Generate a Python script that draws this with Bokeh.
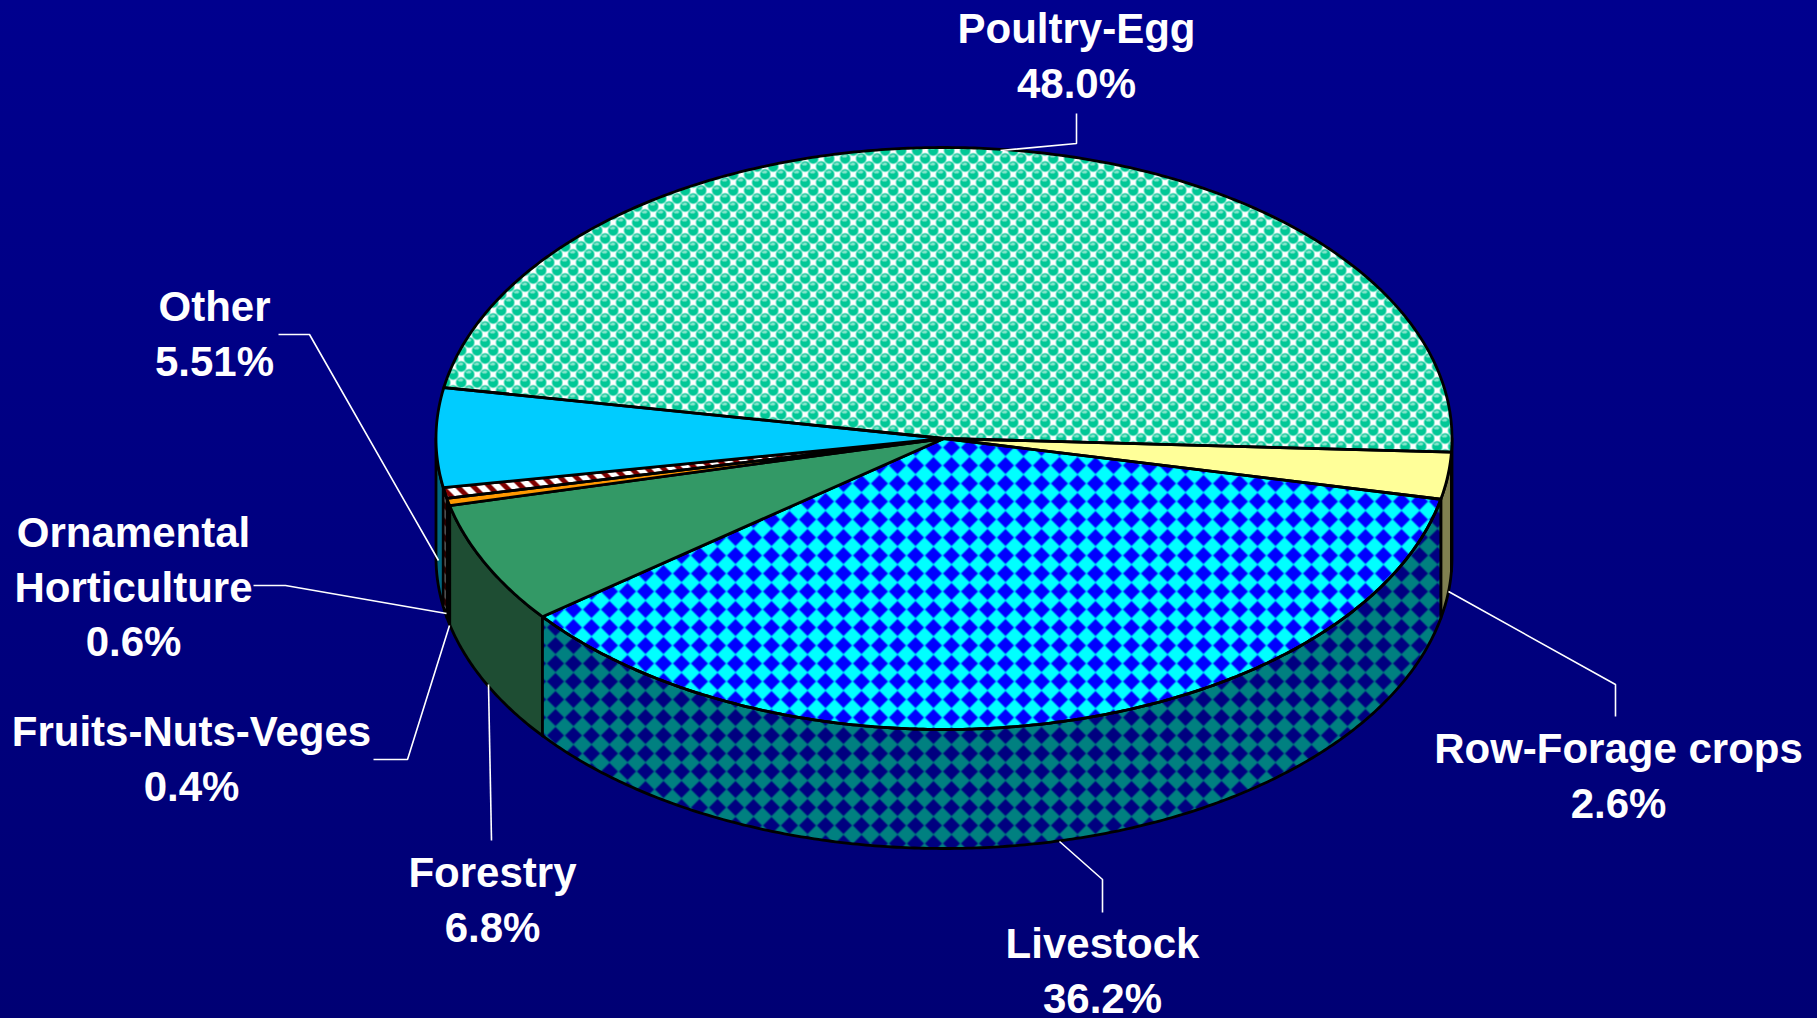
import numpy as np
from bokeh.core.properties import value
from bokeh.embed import file_html
from bokeh.models import Range1d
from bokeh.plotting import figure
from bokeh.resources import INLINE

# ---- data ----
labels = ["Row-Forage crops", "Livestock", "Forestry", "Fruits-Nuts-Veges",
          "Ornamental\nHorticulture", "Other", "Poultry-Egg"]
values = [2.6, 36.2, 6.8, 0.4, 0.6, 5.51, 48.0]
value_texts = ["2.6%", "36.2%", "6.8%", "0.4%", "0.6%", "5.51%", "48.0%"]
top_colors = ["#FFFF99", "#00FFFF", "#339966", "#FF9900", "#FFFFFF", "#00CCFF", "#FFFFFF"]
wall_colors = ["#808050", "#008080", "#1E4D33", "#804D00", "#808080", "#006680", "#00604A"]

# ---- layout (page pixels) ----
W, H = 1817, 1018
CX, CY, RX, RY, DEPTH = 943.5, 438, 508, 291, 119
START_DEG = 2.7
BASELINE_SHIFT = -15
LINE_GAP = 54.5
label_anchor = {
    "Row-Forage crops": (1618, 763),
    "Livestock": (1102, 958),
    "Forestry": (492, 887),
    "Fruits-Nuts-Veges": (191, 746),
    "Ornamental\nHorticulture": (133, 547),
    "Other": (214, 321),
    "Poultry-Egg": (1076, 43),
}
leaders = {
    "Poultry-Egg": ([1000, 1076, 1076], [150, 143, 113]),
    "Other": ([438, 309, 278], [560, 334, 334]),
    "Ornamental\nHorticulture": ([446, 285, 253], [613, 585, 585]),
    "Fruits-Nuts-Veges": ([449, 407, 373], [625, 759, 759]),
    "Forestry": ([488, 491], [684, 840]),
    "Livestock": ([1059, 1102, 1102], [841, 879, 912]),
    "Row-Forage crops": ([1448, 1615, 1615], [591, 684, 716]),
}

def rgb(h):
    return np.array([int(h[i:i + 2], 16) for i in (1, 3, 5)], dtype=float)

def wrap(D, period=16.0):
    return (D + period / 2) % period - period / 2

DIAMOND_PITCH = 18.0

def diamonds(X, Y, bg, fg):
    # a checkerboard turned by 45 degrees: fg diamonds on a square lattice
    dist = np.abs(wrap(X - 1023, DIAMOND_PITCH)) + np.abs(wrap(Y - 573, DIAMOND_PITCH))
    k = np.clip((dist - 7.6) / 1.8, 0, 1)[..., None]
    return rgb(bg) * k + rgb(fg) * (1 - k)

def balls(X, Y, bg, fg, hi):
    ox, oy = 1012.7, 310
    a, b = wrap(X - ox), wrap(Y - oy)
    c, d = wrap(X - ox - 8), wrap(Y - oy - 8)
    first = a * a + b * b <= c * c + d * d
    dx, dy = np.where(first, a, c), np.where(first, b, d)
    dist = np.hypot(dx, dy)
    k = np.clip((dist - 4.6) / 1.2, 0, 1)[..., None]
    img = rgb(bg) * k + rgb(fg) * (1 - k)
    spot = np.hypot((dx + 0.5) / 2.8, (dy + 2.4) / 1.3) < 1
    img[spot] = rgb(hi)
    return img

def stripes(X, Y, bg, fg):
    img = np.broadcast_to(rgb(bg), X.shape + (3,)).copy()
    img[(X - Y) % 16 < 6.5] = rgb(fg)
    return img

# painters for the patterned slices, by slice index
top_paint = {
    1: lambda X, Y: diamonds(X, Y, "#00FFFF", "#0000FF"),
    4: lambda X, Y: stripes(X, Y, "#FFFFFF", "#800000"),
    6: lambda X, Y: balls(X, Y, "#FFFFFF", "#00C896", "#7FE3C9"),
}
wall_paint = {
    1: lambda X, Y: diamonds(X, Y, "#008080", "#000080"),
    4: lambda X, Y: stripes(X, Y, "#A0A0A0", "#500000"),
}

# ---- slice angles from the values ----
fractions = np.array(values) / sum(values)
edges = START_DEG + np.concatenate([[0], np.cumsum(fractions)]) * 360

def in_slice(t, a, b):
    return ((t - a) % 360) < (b - a)

# ---- raster layer holding the patterned faces ----
X, Y = np.meshgrid(np.arange(W) + 0.5, np.arange(H) + 0.5)
U, V = (X - CX) / RX, (Y - CY) / RY
T = np.degrees(np.arctan2(V, U)) % 360
on_top = U * U + V * V <= 1
rgba = np.zeros((H, W, 4), dtype=np.uint8)

U_safe = np.clip(U, -1, 1)
rim_y = CY + RY * np.sqrt(1 - U_safe * U_safe)
T_rim = np.degrees(np.arccos(U_safe))
on_wall = (np.abs(U) <= 1) & (Y >= rim_y) & (Y <= rim_y + DEPTH)

def paint(mask, painter):
    img = painter(X, Y)
    rgba[..., :3][mask] = np.clip(img[mask], 0, 255).astype(np.uint8)
    rgba[..., 3][mask] = 255

for i, painter in wall_paint.items():
    paint(on_wall & in_slice(T_rim, edges[i], edges[i + 1]), painter)
for i, painter in top_paint.items():
    paint(on_top & in_slice(T, edges[i], edges[i + 1]), painter)

raster = np.flipud(rgba).view(np.uint32).reshape(H, W)

# ---- figure ----
p = figure(width=W, height=H, x_range=Range1d(0, W), y_range=Range1d(0, H),
           output_backend="svg", toolbar_location=None, min_border=0,
           background_fill_color=None, border_fill_color=None, outline_line_color=None)
p.axis.visible = False
p.grid.visible = False

def fy(y):
    return H - np.asarray(y, dtype=float)

def arc(a, b, step=0.5):
    n = max(2, int(abs(b - a) / step) + 2)
    t = np.radians(np.linspace(a, b, n))
    return CX + RX * np.cos(t), CY + RY * np.sin(t)

def patch(xs, ys, color):
    p.patch(list(xs), list(fy(ys)), fill_color=color, line_color="black", line_width=2.8,
            line_join="round")

# side walls of solid slices go under the raster; patterned walls only get outlines
for i, (a, b) in enumerate(zip(edges[:-1], edges[1:])):
    if i not in wall_paint:
        for lo, hi in ((a, b), (a - 360, b - 360)):
            lo, hi = max(lo, 0), min(hi, 180)
            if hi > lo:
                x, y = arc(lo, hi)
                patch(np.r_[x, x[::-1]], np.r_[y, y[::-1] + DEPTH], wall_colors[i])

p.image_rgba(image=[raster], x=0, y=0, dw=W, dh=H)

for i, (a, b) in enumerate(zip(edges[:-1], edges[1:])):
    if i in wall_paint:
        for lo, hi in ((a, b), (a - 360, b - 360)):
            lo, hi = max(lo, 0), min(hi, 180)
            if hi > lo:
                x, y = arc(lo, hi)
                patch(np.r_[x, x[::-1]], np.r_[y, y[::-1] + DEPTH], None)

for i, (a, b) in enumerate(zip(edges[:-1], edges[1:])):
    x, y = arc(a, b)
    patch(np.r_[CX, x], np.r_[CY, y], None if i in top_paint else top_colors[i])

# leader lines and labels
for name, vt in zip(labels, value_texts):
    lx, ly = leaders[name]
    p.line(lx, list(fy(ly)), line_color="white", line_width=1.6)
    ax, ay = label_anchor[name]
    rows = name.split("\n") + [vt]
    ys = fy([ay + BASELINE_SHIFT + k * LINE_GAP for k in range(len(rows))])
    p.text([ax] * len(rows), list(ys), text=rows,
           text_color="white", text_font=value("Liberation Sans"), text_font_style="bold",
           text_font_size="42px", text_align="center", text_baseline="alphabetic")

html = file_html(p, INLINE).replace(
    "</head>",
    "<style>html{height:100%;overflow:hidden;background:linear-gradient(#00008e,#000074) no-repeat fixed;}"
    "body{background:transparent;}</style></head>", 1)
open("out.html", "w").write(html)
